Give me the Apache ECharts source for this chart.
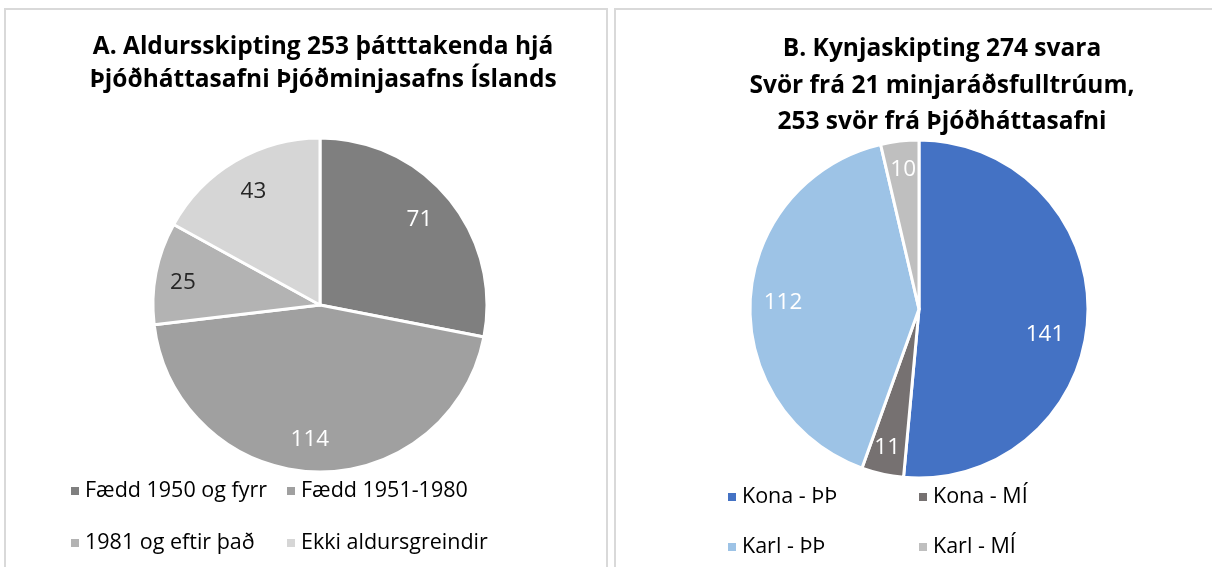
<!DOCTYPE html>
<html>
<head>
<meta charset="utf-8">
<script src="https://cdn.jsdelivr.net/npm/echarts@6/dist/echarts.min.js"></script>
<style>
  html, body { margin: 0; padding: 0; background: #fff; }
  #chart { width: 1212px; height: 567px; }
</style>
</head>
<body>
<div id="chart"></div>
<script>
// chart A: age groups
const ageNames = ['Fædd 1950 og fyrr', 'Fædd 1951-1980', '1981 og eftir það', 'Ekki aldursgreindir'];
const ageValues = [71, 114, 25, 43];
const ageColors = ['#7f7f7f', '#a0a0a0', '#b3b3b3', '#d6d6d6'];
const ageLabelColors = ['#fff', '#fff', '#262626', '#262626'];

// chart B: gender
const sexNames = ['Kona - ÞÞ', 'Kona - MÍ', 'Karl - ÞÞ', 'Karl - MÍ'];
const sexValues = [141, 11, 112, 10];
const sexColors = ['#4472c4', '#767171', '#9dc3e6', '#bfbfbf'];

const FONT = 'Open Sans';

function pieData(names, values, colors) {
  return names.map((n, i) => ({ name: n, value: values[i], itemStyle: { color: colors[i] } }));
}

// ring used only to place the value labels further out
function labelRing(names, values, center, r, labelColors, offsets) {
  return {
    type: 'pie', silent: true, center: center,
    radius: [r * 0.6, r], startAngle: 90, clockwise: true,
    itemStyle: { color: 'rgba(0,0,0,0)', borderWidth: 0 },
    label: { show: true, position: 'inside', fontFamily: FONT, fontSize: 22.5,
      formatter: '{c}' },
    labelLine: { show: false },
    data: names.map((n, i) => ({ name: n, value: values[i],
      label: { color: labelColors[i], offset: (offsets && offsets[i]) || [0, 0] } }))
  };
}

// one vertical legend per column, two rows each
function legendCol(names, left, top, gap) {
  return {
    data: names, left: left, top: top, orient: 'vertical', padding: 0,
    icon: 'rect', itemWidth: 10, itemHeight: 10, itemGap: gap,
    textStyle: { fontFamily: FONT, fontSize: 21.5, color: '#000', lineHeight: 26 }
  };
}

let chart = echarts.init(document.getElementById('chart'));
chart.setOption({
  animation: false,
  graphic: [
    { type: 'rect', shape: { x: 5, y: 9, width: 602, height: 600 },
      style: { fill: 'none', stroke: '#d9d9d9', lineWidth: 2 } },
    { type: 'rect', shape: { x: 615, y: 9, width: 600, height: 600 },
      style: { fill: 'none', stroke: '#d9d9d9', lineWidth: 2 } }
  ],
  title: [
    { text: 'A. Aldursskipting 253 þátttakenda hjá\nÞjóðháttasafni Þjóðminjasafns Íslands',
      left: 318, top: 26, textAlign: 'center',
      textStyle: { fontFamily: FONT, fontSize: 24.5, fontWeight: 'bold', color: '#000', lineHeight: 33 } },
    { text: 'B. Kynjaskipting 274 svara\nSvör frá 21 minjaráðsfulltrúum,\n253 svör frá Þjóðháttasafni',
      left: 937, top: 26, textAlign: 'center',
      textStyle: { fontFamily: FONT, fontSize: 24.5, fontWeight: 'bold', color: '#000', lineHeight: 36.5 } }
  ],
  legend: [
    legendCol([ageNames[0], ageNames[2]], 69, 478, 26),
    legendCol([ageNames[1], ageNames[3]], 285, 478, 26),
    legendCol([sexNames[0], sexNames[2]], 726, 484, 24),
    legendCol([sexNames[1], sexNames[3]], 917, 484, 24)
  ],
  series: [
    { type: 'pie', center: [320, 305], radius: [0, 167], startAngle: 90, clockwise: true,
      itemStyle: { borderColor: '#fff', borderWidth: 3 },
      label: { show: false }, labelLine: { show: false },
      data: pieData(ageNames, ageValues, ageColors) },
    { type: 'pie', center: [919, 309], radius: [0, 169], startAngle: 90, clockwise: true,
      itemStyle: { borderColor: '#fff', borderWidth: 3 },
      label: { show: false }, labelLine: { show: false },
      data: pieData(sexNames, sexValues, sexColors) },
    labelRing(ageNames, ageValues, [320, 305], 167, ageLabelColors,
      [[-6, 1], [-5, -2], [-3, 4], [3, 4]]),
    labelRing(sexNames, sexValues, [919, 309], 169, ['#fff', '#fff', '#fff', '#fff'],
      [[-12, 19], [-2, 4], [2, 2], [0, -2]])
  ]
});
</script>
</body>
</html>
